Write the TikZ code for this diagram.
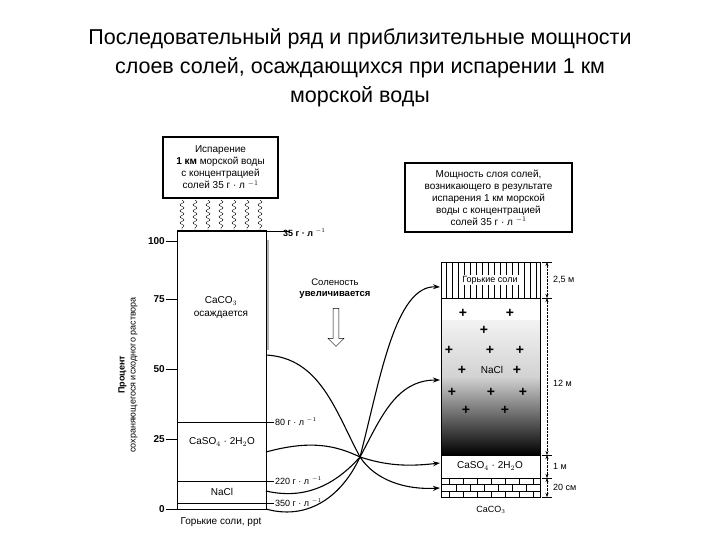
\documentclass[tikz,border=0pt]{standalone}
\usepackage{fontspec}
\setmainfont{Liberation Sans}
\usetikzlibrary{arrows.meta,decorations.pathmorphing,shapes.arrows}
\begin{document}
\begin{tikzpicture}[x=1pt,y=-1pt,
  lbl/.style={font=\fontsize{9}{10}\selectfont,inner sep=1pt},
  conn/.style={line width=1.1pt,-{Stealth[length=7pt,width=5pt]}},
  curv/.style={line width=1.1pt}]
\useasboundingbox (0,0) rectangle (720,540);
% title
\node[font=\fontsize{21.5}{29}\selectfont,align=center] (title) at (360,68)
 {Последовательный ряд и приблизительные мощности\\слоев солей, осаждающихся при испарении 1 км\\морской воды};
% evaporation box
\node[draw,line width=1.5pt,minimum width=115pt,minimum height=61pt,align=center,
  font=\fontsize{10}{12}\selectfont] (evap) at (220.5,167.5)
 {Испарение\\\textbf{1 км} морской воды\\с концентрацией\\солей 35 г · л $^{-1}$};
\foreach \x in {182,195,208,221,234,247,260}
  \draw[decorate,decoration={snake,amplitude=2pt,segment length=6pt}] (\x,200) -- (\x,230);
% left column
\draw[gray!60,line width=2pt] (268,240) -- (268,350);
\draw[line width=1pt] (177,231) rectangle (266,509);
\draw (177,231) -- (290,231);
\draw (177,422) -- (274,422);
\draw (177,481) -- (274,481);
\draw (177,503) -- (274,503);
\foreach \y/\t in {241/100,299/75,369/50,439/25,509/0}{
  \node[lbl,font=\fontsize{10}{10}\selectfont\bfseries,anchor=east] (ax\t) at (166,\y) {\t};
  \draw (166,\y) -- (177,\y);}
\node[lbl,align=center,font=\fontsize{10}{13}\selectfont] (caco) at (221,308) {CaCO$_3$\\осаждается};
\node[lbl,font=\fontsize{10}{10}\selectfont] (caso) at (222,442) {CaSO$_4$ · 2H$_2$O};
\node[lbl,font=\fontsize{10}{10}\selectfont] (nacl) at (222,492) {NaCl};
\node[lbl,anchor=west,font=\fontsize{9}{10}\selectfont\bfseries] (c35) at (282,233) {35 г · л $^{-1}$};
\node[lbl,anchor=west] (c80) at (274,422) {80 г · л $^{-1}$};
\node[lbl,anchor=west] (c220) at (274,481) {220 г · л $^{-1}$};
\node[lbl,anchor=west] (c350) at (274,503) {350 г · л $^{-1}$};
\node[lbl,font=\fontsize{10}{10}\selectfont] (bit) at (221,522) {Горькие соли, ppt};
\node[rotate=90,align=center,font=\fontsize{9}{11}\selectfont] (yl) at (128,375)
 {\textbf{Процент}\\сохраняющегося исходного раствора};
% salinity
\node[align=center,font=\fontsize{9.5}{11}\selectfont] (sal) at (335,289) {Соленость\\\textbf{увеличивается}};
\node[draw,single arrow,shape border rotate=270,minimum height=38pt,minimum width=16pt,
  single arrow head extend=4pt,inner sep=2pt] (sarr) at (336,326) {};
% right box
\node[draw,line width=1.5pt,minimum width=167pt,minimum height=69pt,align=center,
  font=\fontsize{10}{12}\selectfont] (thick) at (488.5,197.5)
 {Мощность слоя солей,\\возникающего в результате\\испарения 1 км морской\\воды с концентрацией\\солей 35 г · л $^{-1}$};
% right column
\shade[top color=white,bottom color=black,middle color=gray!35] (441,298) rectangle (540,455);
\fill[white] (441,298) rectangle (540,320);
\foreach \x in {446,452,...,536} \draw (\x,262) -- (\x,298);
\node[fill=white,inner sep=1pt,font=\fontsize{9}{10}\selectfont] (gor) at (490,280) {Горькие соли};
\draw (441,478) -- (540,478);
\foreach \y in {484,491} \draw (441,\y) -- (540,\y);
\foreach \x in {449,463,...,540} \draw (\x,478) -- (\x,484);
\foreach \x in {456,470,...,540} \draw (\x,484) -- (\x,491);
\foreach \x in {449,463,...,540} \draw (\x,491) -- (\x,497);
\draw[line width=1pt] (441,262) rectangle (540,497);
\draw (441,298) -- (540,298);
\draw (441,455) -- (540,455);
\node[fill=white,inner sep=1pt,font=\fontsize{10}{10}\selectfont] (caso2) at (490,466) {CaSO$_4$ · 2H$_2$O};
\node[font=\fontsize{10}{10}\selectfont] (nacl2) at (492,370) {NaCl};
\foreach \x/\y in {463/313,510/313,484/330,449/350,490/350,520/350,462/370,517/370,452/392,491/392,523/392,466/410,505/410}
  \node[font=\fontsize{14}{14}\selectfont\bfseries,inner sep=0pt] at (\x,\y) {+};
\node[font=\fontsize{9}{10}\selectfont] (caco2) at (491,510) {CaCO$_3$};
% dimension marks
\foreach \a/\b in {262/298,298/455,455/478,478/497}{
  \draw[densely dotted,{Stealth[length=4pt]}-{Stealth[length=4pt]}] (547,\a) -- (547,\b);
  \draw (542,\a) -- (552,\a);}
\draw (542,497) -- (552,497);
\node[lbl,anchor=west] (d1) at (552,280) {2,5 м};
\node[lbl,anchor=west] (d2) at (552,383) {12 м};
\node[lbl,anchor=west] (d3) at (552,466) {1 м};
\node[lbl,anchor=west] (d4) at (552,487) {20 см};
% curves
\coordinate (X) at (360,457);
\coordinate (s1) at (266,355);
\coordinate (s2) at (266,452);
\coordinate (s3) at (266,491);
\coordinate (s4) at (266,509);
\coordinate (e1) at (440,287);
\coordinate (e2) at (440,380);
\coordinate (e3) at (440,463);
\coordinate (e4) at (440,488);
\draw[curv] (s1) .. controls (320,358) and (335,410) .. (X);
\draw[curv] (s2) .. controls (310,440) and (335,445) .. (X);
\draw[curv] (s3) .. controls (305,500) and (335,485) .. (X);
\draw[curv] (s4) .. controls (305,520) and (340,500) .. (X);
\draw[conn] (X) .. controls (380,380) and (395,285) .. (e1);
\draw[conn] (X) .. controls (380,420) and (395,380) .. (e2);
\draw[conn] (X) .. controls (385,465) and (405,467) .. (e3);
\draw[conn] (X) .. controls (375,480) and (405,490) .. (e4);
\end{tikzpicture}
\end{document}
